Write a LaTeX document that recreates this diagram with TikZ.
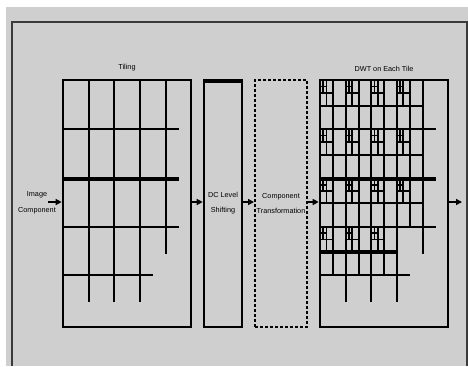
\documentclass[tikz,border=0pt]{standalone}
\usepackage{fontspec}
\setmainfont{Liberation Sans}
\usetikzlibrary{arrows.meta, positioning}
\definecolor{bgfill}{HTML}{CFCFCF}
\definecolor{frameline}{HTML}{3A3A3A}
\tikzset{
  stage/.style    = {draw, line width=2.6bp, minimum height=247bp, inner sep=0pt,
                     align=center, font=\fontsize{7.3}{15}\selectfont},
  tilebox/.style  = {stage, minimum width=128bp},
  grd/.style      = {line width=2bp},
  grdthick/.style = {line width=3.4bp},
  fine/.style     = {line width=1.8bp},
  lab/.style      = {font=\fontsize{7.3}{16}\selectfont, align=center, inner sep=1bp},
  sig/.style      = {-{Triangle[length=6bp, width=6bp]}, line width=1.4bp},
}

\begin{document}
\begin{tikzpicture}[x=1bp, y=-1bp]

\useasboundingbox (0,0) rectangle (468,366);
\fill[white] (0,0) rectangle (468,366);
\fill[bgfill] (6,7) rectangle (468,366);
\draw[frameline, line width=1.2bp] (12,366) -- (12,22) -- (467,22) -- (467,366);

% =========================================================================
% Stages
% =========================================================================
\node[tilebox] (tiling) at (127,203.5) {};
\node[stage, minimum width=38bp] (dcl) at (223,203.5) {DC Level\\Shifting};
\node[stage, minimum width=52bp, dashed, dash pattern=on 3bp off 2bp, line width=2bp]
  (ctr) at (281,203.5) {Component\\Transformation};
\node[tilebox] (dwt) at (384,203.5) {};
\draw[line width=4.4bp] (204,81) -- (242,81);

\node[lab, above=6bp of tiling] (tilinglab) {Tiling};
\node[lab, above=6bp of dwt] (dwtlab) {DWT on Each Tile};
\node[lab] (imgc) at (37,203) {Image\\Component};

% =========================================================================
% Tile grid (same in both boxes)
% =========================================================================
\foreach \dx in {0,257} {
  \foreach \x in {89,114,140} \draw[grd] (\x+\dx,80) -- (\x+\dx,302);
  \draw[grd] (166+\dx,80) -- (166+\dx,254);
  \foreach \y in {129,227} \draw[grd] (63+\dx,\y) -- (179+\dx,\y);
  \draw[grdthick] (63+\dx,179) -- (179+\dx,179);
  \draw[grd] (63+\dx,275) -- (153+\dx,275);
}

% first level of the DWT
\foreach \x in {333,358.5,384} \draw[grd] (\x,80) -- (\x,275);
\draw[grd] (410,80) -- (410,227);
\foreach \y in {106,155,203} \draw[grd] (320,\y) -- (423,\y);
\draw[grdthick] (320,252) -- (397,252);

% second and third level in each LL band
\foreach \yt/\yh/\nc in {80/106/3, 129/155/3, 179/203/3, 227/252/2}
  \foreach \c in {0,...,\nc} {
    \pgfmathsetmacro{\xl}{320+25.6*\c}
    \pgfmathsetmacro{\yq}{(\yt+\yh)/2}
    \pgfmathsetmacro{\ye}{(\yt+\yq)/2}
    \draw[fine] (\xl+6.4,\yt) -- (\xl+6.4,\yh);
    \draw[fine] (\xl,\yq) -- (\xl+12.8,\yq);
    \draw[fine] (\xl+3.2,\yt) -- (\xl+3.2,\yq);
    \draw[fine] (\xl,\ye) -- (\xl+6.4,\ye);
  }

% =========================================================================
% Flow
% =========================================================================
\coordinate (in) at (48,202);
\coordinate (out) at (462,202);
\draw[sig] (in) -- (in -| tiling.west);
\draw[sig] (tiling.east |- in) -- (in -| dcl.west);
\draw[sig] (dcl.east |- in) -- (in -| ctr.west);
\draw[sig] (ctr.east |- in) -- (in -| dwt.west);
\draw[sig] (dwt.east |- in) -- (out);

\end{tikzpicture}
\end{document}
